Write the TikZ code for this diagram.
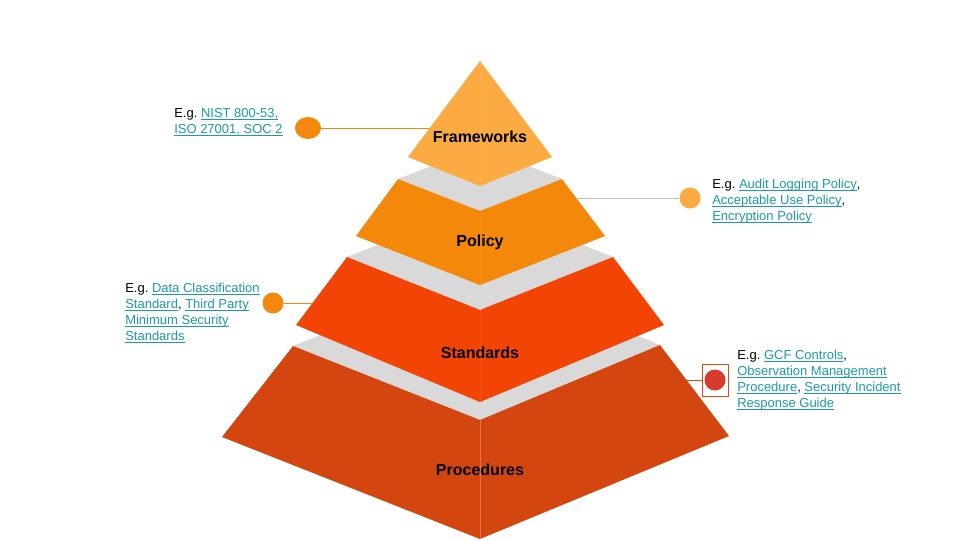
\documentclass[tikz,border=0pt]{standalone}
\usepackage{fontspec}
\setmainfont{Liberation Sans}
\usetikzlibrary{shapes.geometric}

\definecolor{fwc}{HTML}{FCAB42}
\definecolor{polc}{HTML}{F4880A}
\definecolor{stdc}{HTML}{F24405}
\definecolor{prc}{HTML}{D4460F}
\definecolor{facec}{HTML}{D9D9D9}
\definecolor{linkc}{HTML}{1C9AA8}
\definecolor{dotred}{HTML}{D83B2B}
\definecolor{wirec}{HTML}{BDBDBD}

% underlined link text
\newcommand\lnk[1]{{\color{linkc}\setbox0\hbox{#1}\rlap{\rule[-1.8pt]{\wd0}{0.6pt}}\box0}}

\begin{document}
\begin{tikzpicture}[x=0.75pt,y=-0.75pt,
        tier/.style={font=\fontsize{12}{14}\selectfont\bfseries,inner sep=0pt},
        note/.style={font=\fontsize{9.75}{12}\selectfont\frenchspacing,align=left,anchor=base west,inner sep=0pt},
        markdot/.style={circle,fill=#1,inner sep=0pt,minimum size=15.75pt},
        ridge/.style={line width=0.4pt}]
    \useasboundingbox (0,0) rectangle (960,540);

    % top faces
    \fill[facec] (293,346) -- (480,271) -- (660,345) -- (480,420) -- cycle;
    \fill[facec] (347,257) -- (480,204) -- (613,257) -- (480,310) -- cycle;
    \fill[facec] (398,179) -- (480,147) -- (562,179) -- (480,211) -- cycle;

    % tiers
    \fill[prc] (293,346) -- (480,420) -- (660,345) -- (729,436) -- (480,539) -- (222,437) -- cycle;
    \draw[ridge,prc!75!white] (480,420) -- (480,539);
    \fill[stdc] (347,257) -- (480,310) -- (613,257) -- (664,325) -- (480,402) -- (296,325) -- cycle;
    \draw[ridge,stdc!93!white] (480,310) -- (480,402);
    \fill[polc] (398,179) -- (480,211) -- (562,179) -- (605,236) -- (480,285) -- (356,236) -- cycle;
    \draw[ridge,polc!92!white] (480,211) -- (480,285);
    \fill[fwc] (480,61) -- (552,157) -- (480,186) -- (408,157) -- cycle;
    \draw[ridge,fwc!94!white] (480,61) -- (480,186);

    \node[tier] (fw) at (480,137) {Frameworks};
    \node[tier] (pol) at (480,242) {Policy};
    \node[tier] (std) at (480,353) {Standards};
    \node[tier] (pr) at (480,470) {Procedures};

    % callouts (notes sit on their last baseline)
    \node[ellipse,fill=polc,inner sep=0pt,minimum width=19.5pt,minimum height=16.5pt] (fwdot) at (308,128) {};
    \coordinate (fwedge) at (430,128);
    \draw[polc,line width=0.75pt] (fwdot) -- (fwedge);
    \node[note] (fwnote) at (174,133) {E.g. \lnk{NIST 800-53,}\\\lnk{ISO 27001, SOC 2}};

    \node[markdot=fwc] (poldot) at (690,198) {};
    \coordinate (poledge) at (576,198);
    \draw[wirec,line width=0.75pt] (poledge) -- (poldot);
    \node[note] (polnote) at (712,220) {E.g. \lnk{Audit Logging Policy},\\\lnk{Acceptable Use Policy},\\\lnk{Encryption Policy}};

    \node[markdot=polc] (stddot) at (273,303) {};
    \coordinate (stdedge) at (312,303);
    \draw[polc,line width=0.75pt] (stddot) -- (stdedge);
    \node[note] (stdnote) at (125,340) {E.g. \lnk{Data Classification}\\\lnk{Standard}, \lnk{Third Party}\\\lnk{Minimum Security}\\\lnk{Standards}};

    \node[markdot=dotred] (prdot) at (715,380) {};
    \node[draw=stdc,line width=0.75pt,minimum width=19.5pt,minimum height=24pt,inner sep=0pt] (prsel) at (715,380) {};
    \coordinate (predge) at (687,380);
    \draw[stdc,line width=0.75pt] (predge) -- (prsel.west);
    \node[note] (prnote) at (737,407) {E.g. \lnk{GCF Controls},\\\lnk{Observation Management}\\\lnk{Procedure}, \lnk{Security Incident}\\\lnk{Response Guide}};
\end{tikzpicture}
\end{document}
